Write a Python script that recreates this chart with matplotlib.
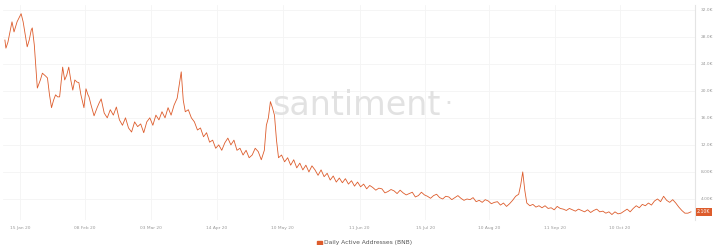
import matplotlib
matplotlib.use("Agg")
import matplotlib.pyplot as plt

# day position (relative time axis) and daily active addresses (thousands)
days = [5, 6, 8, 10, 12, 14, 17, 19, 21, 23, 25, 27, 29, 31, 32, 34, 37,
        40, 42, 45, 47, 49, 51, 53, 55, 57, 59, 62, 64, 66, 68, 70, 72, 74, 76, 78, 80,
        83, 85, 87, 88, 90, 93, 96, 98, 100, 103, 106, 109, 112, 115, 118,
        121, 124, 127, 130, 133, 136, 139, 142, 145, 148, 151, 154, 157, 160, 163, 166,
        169, 172, 175, 177, 179, 181, 183, 186, 189,
        192, 195, 198, 201, 204, 207, 210, 213, 216, 219, 222, 225, 228, 231, 234, 237,
        240, 243, 246, 249, 252, 255, 258, 261, 263, 265, 267, 269, 271, 273, 275,
        278, 281, 284, 287, 290, 293, 296, 299, 302, 305, 308, 311, 314, 317, 320, 323,
        326, 329, 332, 335, 338, 341, 344, 347, 350, 353, 356, 359,
        362, 365, 368, 371, 374, 377, 380, 383, 386, 389, 392, 395, 398, 401, 404, 407,
        410, 413, 416, 419, 422, 425, 428, 431, 434, 437, 440, 443, 446, 449, 452, 455,
        458, 461, 464, 467, 470, 473, 476, 479, 482, 485, 488, 491, 494, 497, 500,
        503, 506, 509, 512, 514, 516, 518, 520, 523, 526, 529, 532, 535, 538, 541, 544,
        547, 550, 553, 556, 559, 562, 565, 568, 571, 574, 577, 580, 583, 586, 589, 592,
        595, 598, 601,
        604, 607, 610, 613, 616, 619, 622, 625, 628, 631, 634, 637, 640, 643, 646, 649,
        652, 655, 658, 661, 664, 667, 670, 673, 676, 679, 682]
active_k = [27.5, 26.3, 27.2, 28.7, 30.2, 28.7, 30.2, 30.8, 31.4, 30.2, 28.3, 26.5, 27.5, 29.0, 29.3, 26.8, 20.4,
            21.6, 22.6, 22.2, 21.9, 19.4, 17.5, 18.6, 19.4, 19.1, 19.1, 23.5, 21.6, 22.3, 23.5, 21.6, 20.1, 21.6, 21.3, 21.2, 19.4,
            17.5, 20.3, 19.4, 19.1, 17.9, 16.3, 17.5, 18.2, 18.8, 16.7, 16.0, 17.2, 16.4, 17.6, 15.7,
            14.9, 16.0, 14.5, 13.9, 15.4, 14.7, 15.1, 13.8, 15.4, 16.0, 14.9, 16.4, 15.7, 16.9, 16.0, 17.5,
            16.4, 17.9, 18.9, 20.9, 22.8, 18.6, 16.9, 17.2, 16.0,
            15.4, 14.2, 14.5, 13.2, 13.8, 12.4, 12.7, 11.5, 12.0, 11.2, 12.3, 13.0, 12.0, 12.7, 11.2, 11.5,
            10.5, 11.2, 10.1, 10.5, 11.5, 11.0, 9.8, 11.2, 14.9, 16.0, 18.4, 17.5, 16.4, 12.7, 10.1,
            10.5, 9.5, 10.1, 9.0, 9.8, 8.6, 9.3, 8.3, 9.0, 8.0, 8.9, 8.3, 7.5, 8.3, 7.3, 7.8,
            6.8, 7.4, 6.5, 7.1, 6.4, 7.0, 6.2, 6.7, 5.9, 6.5, 5.8, 6.2,
            5.5, 6.0, 5.7, 5.3, 5.6, 5.5, 4.9, 5.1, 5.4, 5.2, 4.8, 5.3, 4.9, 4.6, 4.8, 5.0,
            4.3, 4.5, 5.0, 4.6, 4.4, 4.1, 4.5, 4.7, 4.2, 4.0, 4.4, 4.3, 3.9, 4.2, 4.5, 4.1,
            3.8, 4.0, 3.9, 4.2, 3.6, 3.8, 3.5, 3.9, 3.7, 3.3, 3.5, 3.6, 3.1, 3.4, 2.9,
            3.3, 3.8, 4.4, 4.7, 6.1, 8.0, 5.3, 3.4, 3.0, 3.2, 2.8, 3.0, 2.7, 3.0, 2.6, 2.7,
            2.4, 2.9, 2.6, 2.5, 2.3, 2.6, 2.4, 2.2, 2.5, 2.3, 2.1, 2.4, 2.0, 2.3, 2.5, 2.1,
            2.2, 1.9, 2.1,
            1.7, 2.1, 1.8, 1.9, 2.2, 2.5, 2.1, 2.6, 3.0, 2.7, 3.2, 3.0, 3.4, 3.1, 3.7, 4.0,
            3.6, 4.4, 3.8, 3.5, 3.9, 3.4, 2.8, 2.3, 1.9, 1.9, 2.1]

x_tick_pos = [20, 84, 149, 214, 279, 355, 420, 483, 548, 612]
x_tick_labels = ["15 Jan 20", "08 Feb 20", "03 Mar 20", "14 Apr 20", "10 May 20",
                 "11 Jun 20", "15 Jul 20", "10 Aug 20", "11 Sep 20", "10 Oct 20"]
y_ticks = [4, 8, 12, 16, 20, 24, 28, 32]
y_tick_labels = ["4.00K", "8.00K", "12.0K", "16.0K", "20.0K", "24.0K", "28.0K", "32.0K"]
series_name = "Daily Active Addresses (BNB)"
last_label = "2.10K"

line_color = "#dd5c2c"

fig = plt.figure(figsize=(7.18, 2.45), dpi=100)
ax = fig.add_axes([0.004, 0.102, 0.964, 0.878])
ax.plot(days, active_k, color=line_color, lw=0.6)
ax.set_xlim(3, 686)
ax.set_ylim(0.89, 32.7)

ax.yaxis.tick_right()
ax.set_yticks(y_ticks)
ax.set_yticklabels(y_tick_labels)
ax.set_xticks(x_tick_pos)
ax.set_xticklabels(x_tick_labels)
ax.tick_params(axis="both", length=0, labelsize=3.2, colors="#9a9a9a", pad=4)
ax.grid(True, color="#f4f4f4", lw=0.6)
for s in ["top", "left", "bottom"]:
    ax.spines[s].set_visible(False)
ax.spines["right"].set_color("#e4e4e4")
ax.spines["right"].set_linewidth(0.8)

# watermark
fig.text(0.497, 0.57, "santiment", fontsize=24, color="#e2e2e2",
         ha="center", va="center", family="DejaVu Sans")
fig.text(0.624, 0.575, "\u00b7", fontsize=18, color="#e2e2e2", ha="center", va="center")

# last value box
ax.text(1.003, (2.1 - 0.89) / (32.7 - 0.89), last_label, transform=ax.transAxes,
        fontsize=3.3, color="white", ha="left", va="center",
        bbox=dict(boxstyle="square,pad=0.3", fc=line_color, ec="none"))

# legend
fig.patches.append(plt.Rectangle((0.442, 0.0), 0.006, 0.018, transform=fig.transFigure,
                                 color=line_color))
fig.text(0.451, 0.009, series_name, fontsize=4.3, color="#555555", ha="left", va="center")

fig.savefig("out.png", dpi=100, facecolor="white")
